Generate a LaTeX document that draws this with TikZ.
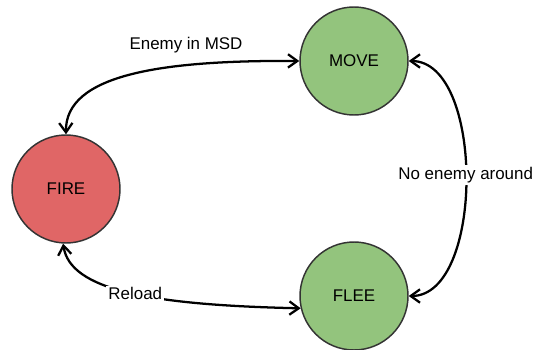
\documentclass[tikz,border=0pt]{standalone}
\usepackage{fontspec}
\setmainfont{Liberation Sans}
\usepackage{tikz}
\usetikzlibrary{arrows.meta}
\definecolor{StateGreen}{HTML}{93C47D}
\definecolor{StateRed}{HTML}{E06666}
\definecolor{Rim}{HTML}{333333}

\begin{document}
\begin{tikzpicture}[x=0.75pt,y=-0.75pt,font=\fontsize{12.7}{15}\selectfont,
  state/.style={circle,draw=Rim,line width=1.1pt,minimum size=81pt,inner sep=0pt},
  trans/.style={{Straight Barb[length=7pt,width=10pt]}-{Straight Barb[length=7pt,width=10pt]},line width=1.7pt},
  lbl/.style={fill=white,inner sep=1.5pt}]
\useasboundingbox (0,0) rectangle (534,349);
\node[state,fill=StateRed] (fire) at (66,189) {FIRE};
\node[state,fill=StateGreen] (move) at (354,61) {MOVE};
\node[state,fill=StateGreen] (flee) at (354,296) {FLEE};
% transitions
\draw[trans] (fire.north) .. controls (65,75) and (160,60) .. (move.west);
\node (msd) at (186,45) {Enemy in MSD};
\draw[trans] (fire.-93) .. controls (70,290) and (150,305) .. (flee.193) node[lbl,pos=0.53] {Reload};
\draw[trans] (move.east) .. controls +(76,0) and +(76,0) .. (flee.east) node[lbl,pos=0.49] {No enemy around};
\end{tikzpicture}
\end{document}
